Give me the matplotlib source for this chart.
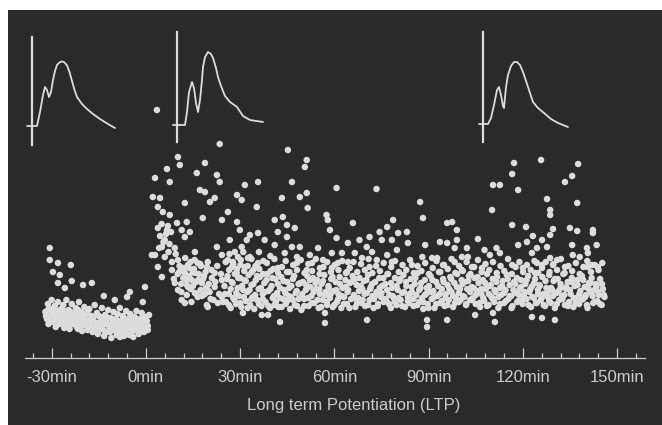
import numpy as np
import matplotlib
matplotlib.use("Agg")
import matplotlib.pyplot as plt

# --- response amplitude per sweep (time in min, amplitude in a.u.) ---
baseline_pts = [
    (-30.6, 11.0), (-30.6, 9.8), (-28.0, 9.5), (-23.9, 9.3), (-29.6, 8.6), (-27.4, 8.3),
    (-28.0, 7.5), (-23.6, 7.7), (-25.8, 7.0), (-20.0, 7.3), (-17.2, 7.5), (-0.3, 7.1),
    (-5.1, 6.6), (-6.0, 6.1), (-13.4, 6.2), (-9.9, 5.8), (-1.0, 5.6), (-21.6, 2.9), (-8.3, 2.1),
    (-32.0, 4.6), (-31.5, 3.9), (-31.2, 5.4), (-31.0, 3.4), (-30.5, 4.9), (-30.2, 4.2),
    (-30.0, 5.8), (-29.6, 3.6), (-29.3, 4.6), (-29.0, 5.2), (-28.7, 3.1), (-28.4, 4.0),
    (-28.0, 5.6), (-27.7, 4.4), (-27.4, 3.4), (-27.0, 4.9), (-26.6, 3.9), (-26.3, 5.3),
    (-26.0, 3.0), (-25.6, 4.3), (-25.3, 5.8), (-25.0, 3.6), (-24.6, 4.8), (-24.3, 2.9),
    (-24.0, 4.1), (-23.6, 5.4), (-23.3, 3.4), (-23.0, 4.5), (-22.6, 3.8), (-22.3, 5.0),
    (-22.0, 3.1), (-21.6, 4.2), (-21.3, 5.6), (-21.0, 3.6), (-20.6, 4.6), (-20.3, 2.7),
    (-20.0, 4.0), (-19.6, 5.1), (-19.3, 3.3), (-19.0, 4.4), (-18.6, 2.8), (-18.3, 3.8),
    (-18.0, 4.9), (-17.6, 3.2), (-17.3, 4.2), (-17.0, 2.6), (-16.6, 3.7), (-16.3, 5.3),
    (-16.0, 3.0), (-15.6, 4.5), (-15.3, 2.4), (-15.0, 3.5), (-14.6, 4.1), (-14.3, 2.9),
    (-14.0, 5.0), (-13.6, 3.3), (-13.3, 2.2), (-13.0, 4.3), (-12.6, 3.6), (-12.3, 2.6),
    (-12.0, 4.8), (-11.6, 3.1), (-11.3, 4.0), (-11.0, 2.0), (-10.6, 3.5), (-10.3, 4.6),
    (-10.0, 2.8), (-9.6, 3.9), (-9.3, 2.3), (-9.0, 4.4), (-8.6, 3.2), (-8.3, 5.0),
    (-8.0, 2.6), (-7.6, 3.7), (-7.3, 4.2), (-7.0, 2.2), (-6.6, 3.4), (-6.3, 4.7),
    (-6.0, 2.9), (-5.6, 3.9), (-5.3, 2.3), (-5.0, 4.4), (-4.6, 3.1), (-4.3, 3.6),
    (-4.0, 2.1), (-3.6, 4.1), (-3.3, 2.8), (-3.0, 4.7), (-2.6, 3.3), (-2.3, 2.4),
    (-2.0, 3.9), (-1.6, 2.9), (-1.3, 4.5), (-1.0, 3.5), (-0.6, 2.6), (-0.3, 4.1),
    (0.0, 3.1), (0.3, 3.7), (0.6, 2.8), (1.0, 4.3),
]

baseline_fill_pts = [
    (-31.8, 4.2), (-31.2, 4.8), (-30.6, 3.8), (-30.0, 4.5), (-29.4, 5.0), (-28.8, 4.1),
    (-28.2, 4.7), (-27.6, 3.6), (-27.0, 4.3), (-26.4, 4.8), (-25.8, 3.5), (-25.2, 4.1),
    (-24.6, 3.3), (-24.0, 4.6), (-23.4, 3.9), (-22.8, 4.3), (-22.2, 3.4), (-21.6, 4.8),
    (-21.0, 3.9), (-20.4, 3.3), (-19.8, 4.3), (-19.2, 3.7), (-18.6, 4.6), (-18.0, 3.1),
    (-17.4, 3.6), (-16.8, 4.1), (-16.2, 2.8), (-15.6, 3.4), (-15.0, 4.2), (-14.4, 3.2),
    (-13.8, 3.8), (-13.2, 2.7), (-12.6, 4.1), (-12.0, 3.3), (-11.4, 2.6), (-10.8, 3.9),
    (-10.2, 3.1), (-9.6, 3.4), (-9.0, 2.7), (-8.4, 3.7), (-7.8, 3.0), (-7.2, 4.0),
    (-6.6, 2.6), (-6.0, 3.5), (-5.4, 3.0), (-4.8, 3.8), (-4.2, 2.7), (-3.6, 3.3),
    (-3.0, 3.9), (-2.4, 2.9), (-1.8, 3.6), (-1.2, 3.1), (-0.6, 4.0), (0.0, 3.5), (0.6, 3.2),
]

ptp_pts = [
    (1.9, 10.3), (3.5, 24.8), (23.5, 21.4),
    (10.2, 20.1), (10.8, 19.3), (18.8, 19.5), (6.7, 18.9), (2.9, 18.0), (7.6, 17.6),
    (16.2, 18.5), (22.6, 18.3), (23.5, 17.6), (17.2, 16.8), (18.8, 16.6), (12.4, 15.5),
    (20.4, 15.6), (21.9, 16.0), (2.2, 16.1), (4.5, 16.0), (3.8, 15.1), (5.4, 14.6),
    (7.6, 14.3), (18.1, 14.0), (24.2, 13.8), (9.9, 13.5), (13.0, 13.6), (6.7, 12.8),
    (11.4, 12.8), (14.0, 12.6), (6.0, 11.8), (12.4, 12.1), (5.1, 11.1), (2.9, 10.3),
    (9.2, 11.0), (15.6, 10.6), (22.6, 11.1), (24.2, 10.3), (6.0, 10.1), (3.8, 9.1),
    (10.2, 9.8), (13.4, 9.3), (16.5, 9.5), (19.4, 9.1), (8.3, 8.8), (12.4, 8.5),
    (15.6, 8.5), (21.9, 8.5), (5.1, 8.1), (9.2, 7.5), (14.6, 7.8), (17.8, 7.5),
    (24.2, 7.8), (10.2, 6.8), (13.4, 7.1), (19.7, 6.8), (21.9, 7.1), (15.6, 6.5),
    (16.5, 6.1), (24.2, 6.1), (11.4, 5.8), (12.4, 5.5), (19.4, 5.3), (22.9, 5.5), (19.7, 5.1),
    (3.8, 13.0), (4.5, 12.2), (5.0, 13.4), (5.6, 11.6), (6.4, 12.4), (7.0, 13.2),
    (7.5, 11.4), (8.0, 12.6), (4.2, 11.0), (7.2, 10.6),
    (12.0, 9.0), (12.8, 7.8), (13.8, 8.2), (14.2, 9.6), (15.0, 7.2), (15.3, 8.9),
    (16.0, 7.6), (16.8, 8.4), (17.4, 6.8), (17.5, 9.2), (18.2, 7.9), (18.8, 6.4),
    (19.0, 8.6), (20.0, 7.4), (20.6, 5.9), (21.0, 8.0), (13.0, 6.3), (14.5, 5.6),
    (11.2, 7.4), (10.6, 8.6),
]

mid_pts = [
    (45.2, 20.8), (35.7, 17.6), (31.5, 17.3), (29.0, 16.3), (30.5, 15.8), (35.3, 15.1),
    (46.5, 17.6), (43.3, 16.0), (49.0, 16.1), (26.1, 14.6), (29.0, 13.6), (41.0, 13.8),
    (43.6, 14.1), (44.9, 13.3), (47.4, 13.0), (29.9, 12.8), (33.1, 12.3), (35.7, 12.5),
    (42.0, 12.6), (26.7, 11.8), (32.1, 11.8), (37.8, 11.8), (41.0, 11.3), (44.9, 12.1),
    (46.5, 11.1), (49.0, 11.1), (28.3, 10.6), (30.5, 11.1), (44.2, 10.5), (48.1, 10.1),
    (26.1, 9.8), (29.3, 10.1), (33.1, 10.1), (35.7, 9.5), (27.4, 9.1), (31.5, 9.1),
    (42.0, 9.0), (44.9, 8.6), (48.1, 9.5),
    (30.9, 4.5), (36.9, 4.3), (38.9, 4.3), (42.7, 3.6),
    (25.0, 7.2), (25.5, 5.6), (26.0, 8.2), (26.4, 6.4), (27.0, 5.0), (27.3, 7.6),
    (27.8, 6.0), (28.3, 8.4), (28.7, 5.4), (29.2, 7.0), (29.6, 6.2), (30.0, 8.0),
    (30.4, 5.1), (31.0, 6.8), (31.3, 7.8), (31.8, 5.7), (32.3, 6.6), (32.7, 8.3),
    (33.2, 5.3), (33.6, 7.3), (34.0, 6.1), (34.5, 4.9), (35.0, 7.8), (35.4, 5.8),
    (35.9, 6.9), (36.3, 8.1), (36.8, 5.2), (37.2, 6.4), (37.7, 7.5), (38.1, 5.6),
    (38.6, 8.4), (39.0, 6.7), (39.5, 5.0), (40.0, 7.2), (40.4, 6.0), (40.9, 5.3),
    (41.3, 7.9), (41.8, 6.5), (42.2, 5.1), (42.7, 7.0), (43.1, 8.1), (43.6, 5.9),
    (44.0, 6.8), (44.5, 5.4), (45.0, 7.6), (45.4, 6.2), (45.9, 4.9), (46.3, 7.2),
    (46.8, 5.8), (47.2, 8.2), (47.7, 6.5), (48.1, 5.2), (48.6, 7.4), (49.0, 6.0), (49.5, 4.8),
    (25.4, 9.6), (26.6, 10.4), (27.8, 9.4), (29.0, 8.9), (30.2, 9.8), (31.0, 10.6),
    (32.4, 9.2), (33.6, 9.9), (34.2, 8.8), (36.0, 10.6), (37.4, 9.7), (39.6, 10.2), (40.6, 8.9),
    (51.2, 19.8), (50.6, 19.1), (60.7, 17.0), (73.4, 16.9), (51.2, 16.5), (51.5, 15.0),
    (57.5, 14.3), (57.9, 13.8), (65.9, 13.5), (58.6, 12.8), (74.4, 12.6), (60.7, 12.0),
    (68.0, 11.8), (71.2, 12.1), (54.8, 11.0), (64.3, 11.5), (70.3, 11.1), (75.1, 11.8),
    (59.2, 10.5), (62.4, 10.5), (66.5, 10.5), (72.0, 10.6), (52.2, 10.3), (52.9, 9.5),
    (56.4, 9.8), (61.1, 9.5), (64.3, 9.6), (68.8, 10.0), (73.5, 9.8), (51.2, 8.8),
    (55.4, 9.0), (59.2, 9.0), (64.0, 8.6), (71.2, 9.1),
    (57.0, 4.5), (57.0, 3.5), (70.4, 3.8),
    (50.0, 7.6), (50.4, 5.9), (50.9, 6.8), (51.4, 8.2), (51.8, 5.2), (52.3, 7.1),
    (52.7, 6.2), (53.2, 8.0), (53.6, 5.5), (54.1, 6.9), (54.5, 7.8), (55.0, 5.0),
    (55.4, 6.4), (55.9, 7.4), (56.3, 5.8), (56.8, 8.3), (57.2, 6.6), (57.7, 5.3),
    (58.1, 7.2), (58.6, 6.0), (59.0, 7.9), (59.5, 5.1), (59.9, 6.7), (60.4, 7.6),
    (60.8, 5.6), (61.3, 6.4), (61.7, 8.1), (62.2, 5.0), (62.6, 7.0), (63.1, 6.1),
    (63.5, 7.8), (64.0, 5.4), (64.4, 6.8), (64.9, 7.5), (65.3, 5.9), (65.8, 8.2),
    (66.2, 6.3), (66.7, 5.1), (67.1, 7.3), (67.6, 6.0), (68.0, 8.0), (68.5, 5.5),
    (68.9, 6.9), (69.4, 7.7), (69.8, 5.2), (70.3, 6.5), (70.7, 8.3), (71.2, 5.8),
    (71.6, 7.1), (72.1, 6.2), (72.5, 5.0), (73.0, 7.6), (73.4, 6.6), (73.9, 5.4),
    (74.3, 8.0), (74.8, 6.1), (75.2, 7.2), (75.7, 5.6),
]

late_pts = [
    (87.3, 15.6), (88.2, 14.0), (78.7, 13.8), (95.9, 13.5), (97.5, 13.6), (76.8, 13.1),
    (99.0, 12.8), (80.3, 12.5), (83.1, 12.6), (78.3, 11.8), (88.9, 11.3), (93.6, 11.6),
    (95.9, 11.5), (99.0, 11.8), (79.9, 10.8), (83.4, 11.5), (98.3, 11.0), (100.6, 10.1),
    (88.0, 10.1), (91.1, 10.0), (92.7, 10.0), (76.8, 10.3), (78.3, 9.6), (84.7, 9.3),
    (94.6, 9.3), (98.3, 9.6), (100.6, 8.8),
    (89.5, 3.8), (89.5, 3.1), (95.9, 3.8),
    (76.2, 7.4), (76.6, 5.7), (77.1, 8.4), (77.5, 6.3), (78.0, 5.0), (78.4, 7.0),
    (78.9, 6.0), (79.3, 8.0), (79.8, 5.3), (80.2, 6.8), (80.7, 7.7), (81.1, 5.8),
    (81.6, 6.5), (82.0, 8.3), (82.5, 5.1), (82.9, 7.2), (83.4, 6.1), (83.8, 5.5),
    (84.3, 7.9), (84.7, 6.6), (85.2, 5.2), (85.6, 7.4), (86.1, 6.3), (86.5, 8.5),
    (87.0, 5.6), (87.4, 7.0), (87.9, 6.0), (88.3, 4.9), (88.8, 7.8), (89.2, 6.4),
    (89.7, 5.4), (90.1, 7.2), (90.6, 8.2), (91.0, 5.9), (91.5, 6.7), (91.9, 5.0),
    (92.4, 7.6), (92.8, 6.2), (93.3, 8.6), (93.7, 5.5), (94.2, 6.9), (94.6, 7.9),
    (95.1, 5.2), (95.5, 6.4), (96.0, 7.3), (96.4, 5.8), (96.9, 8.1), (97.3, 6.6),
    (97.8, 5.1), (98.2, 7.5), (98.7, 6.0), (99.1, 8.4), (99.6, 5.6), (100.0, 6.9), (100.5, 7.8),
    (117.2, 19.5), (116.6, 18.4), (110.5, 17.3), (112.7, 17.3), (118.5, 16.8), (110.2, 14.8),
    (116.6, 13.3), (121.0, 13.1), (105.7, 11.9), (123.2, 12.2), (121.3, 11.6), (118.5, 11.3),
    (102.2, 11.0), (107.8, 10.8), (111.6, 11.0), (112.7, 10.5), (109.5, 10.3), (124.5, 11.0),
    (122.9, 10.5), (102.5, 10.1), (116.6, 9.3), (124.5, 9.5), (103.8, 9.1), (107.0, 9.0),
    (120.0, 9.0), (123.9, 8.5), (125.8, 19.8),
    (104.8, 4.3), (110.5, 4.5), (111.1, 3.6), (122.9, 4.1),
    (101.0, 6.2), (101.4, 7.6), (101.9, 5.3), (102.3, 6.9), (102.8, 8.2), (103.2, 5.8),
    (103.7, 7.1), (104.1, 6.0), (104.6, 8.0), (105.0, 5.4), (105.5, 6.7), (105.9, 7.5),
    (106.4, 5.1), (106.8, 6.4), (107.3, 7.8), (107.7, 5.7), (108.2, 6.9), (108.6, 8.4),
    (109.1, 5.3), (109.5, 7.2), (110.0, 6.1), (110.4, 7.9), (110.9, 5.6), (111.3, 6.6),
    (111.8, 8.1), (112.2, 5.0), (112.7, 7.0), (113.1, 6.3), (113.6, 7.7), (114.0, 5.5),
    (114.5, 6.8), (114.9, 8.3), (115.4, 5.9), (115.8, 7.3), (116.3, 6.2), (116.7, 5.2),
    (117.2, 7.6), (117.6, 6.5), (118.1, 8.0), (118.5, 5.7), (119.0, 6.9), (119.4, 7.8),
    (119.9, 5.4), (120.3, 6.3), (120.8, 7.4), (121.2, 5.9), (121.7, 8.2), (122.1, 6.6),
    (122.6, 5.1), (123.0, 7.2), (123.5, 6.0), (123.9, 7.9), (124.4, 5.5), (124.8, 6.8),
    (137.6, 19.4), (135.7, 18.2), (133.4, 17.6), (127.7, 15.9), (137.3, 15.5), (128.7, 14.8),
    (128.7, 14.3), (129.6, 12.9), (135.0, 13.0), (137.3, 12.7), (142.3, 12.8), (142.3, 12.5),
    (128.7, 12.3), (126.1, 11.8), (127.7, 11.1), (135.7, 11.3), (143.5, 11.3), (140.4, 11.0),
    (140.7, 10.5), (135.9, 10.3), (138.1, 10.1), (128.7, 10.0), (130.9, 9.8), (126.1, 9.3),
    (129.6, 9.3), (133.4, 9.1), (140.7, 9.1), (142.0, 9.3), (143.9, 9.1),
    (126.1, 4.0), (130.2, 3.8),
    (125.3, 7.3), (125.7, 5.8), (126.2, 8.1), (126.6, 6.4), (127.1, 5.2), (127.5, 7.0),
    (128.0, 6.1), (128.4, 8.3), (128.9, 5.5), (129.3, 6.8), (129.8, 7.7), (130.2, 5.0),
    (130.7, 6.5), (131.1, 7.9), (131.6, 5.8), (132.0, 7.0), (132.5, 6.2), (132.9, 8.4),
    (133.4, 5.3), (133.8, 6.9), (134.3, 7.6), (134.7, 5.6), (135.2, 6.4), (135.6, 8.0),
    (136.1, 5.1), (136.5, 7.2), (137.0, 6.0), (137.4, 7.8), (137.9, 5.4), (138.3, 6.7),
    (138.8, 8.2), (139.2, 5.9), (139.7, 7.1), (140.1, 6.3), (140.6, 5.0), (141.0, 7.5),
    (141.5, 6.6), (141.9, 8.0), (142.4, 5.5), (142.8, 6.8), (143.3, 7.4), (143.7, 5.7),
    (144.2, 6.3), (144.6, 7.9), (145.1, 5.3), (145.5, 6.9), (146.0, 6.1),
]

# the packed core of the potentiated band
band_pts = [
    (8.3, 9.6), (8.9, 7.9), (9.5, 10.4), (10.1, 8.4), (10.7, 9.2), (11.3, 6.6), (11.9, 8.0),
    (12.5, 10.0), (13.1, 7.3), (13.7, 9.0), (14.3, 6.9), (14.9, 8.6), (15.5, 9.8), (16.1, 6.4),
    (16.7, 7.8), (17.3, 9.4), (17.9, 6.2), (18.5, 8.2), (19.1, 7.0), (19.7, 9.6), (20.3, 6.6),
    (20.9, 8.8), (21.5, 5.8), (22.1, 7.6), (22.7, 9.2), (23.3, 6.4), (23.9, 8.4), (24.5, 5.6),
    (25.2, 6.4), (25.8, 7.9), (26.4, 5.3), (27.0, 6.9), (27.6, 7.5), (28.2, 5.8), (28.8, 6.5),
    (29.4, 8.0), (30.0, 5.5), (30.6, 7.2), (31.2, 6.1), (31.8, 7.7), (32.4, 5.0), (33.0, 6.8),
    (33.6, 5.9), (34.2, 7.4), (34.8, 6.3), (35.4, 8.2), (36.0, 5.4), (36.6, 7.0), (37.2, 5.9),
    (37.8, 6.6), (38.4, 7.8), (39.0, 5.2), (39.6, 6.9), (40.2, 8.0), (40.8, 6.2), (41.4, 5.6),
    (42.0, 7.4), (42.6, 6.0), (43.2, 5.1), (43.8, 7.7), (44.4, 6.5), (45.0, 5.7), (45.6, 7.0),
    (46.2, 6.1), (46.8, 7.9), (47.4, 5.3), (48.0, 6.7), (48.6, 5.9), (49.2, 7.5), (49.8, 6.4),
    (50.4, 5.2), (51.0, 7.3), (51.6, 6.0), (52.2, 7.8), (52.8, 5.5), (53.4, 6.6), (54.0, 7.5),
    (54.6, 5.8), (55.2, 6.9), (55.8, 5.1), (56.4, 7.7), (57.0, 6.3), (57.6, 5.6), (58.2, 7.0),
    (58.8, 6.4), (59.4, 8.1), (60.0, 5.3), (60.6, 6.8), (61.2, 5.9), (61.8, 7.4), (62.4, 6.2),
    (63.0, 5.4), (63.6, 7.1), (64.2, 6.6), (64.8, 5.0), (65.4, 7.6), (66.0, 6.0), (66.6, 7.9),
    (67.2, 5.5), (67.8, 6.7), (68.4, 7.2), (69.0, 5.8), (69.6, 6.4), (70.2, 7.8), (70.8, 5.3),
    (71.4, 6.9), (72.0, 7.4), (72.6, 5.9), (73.2, 6.3), (73.8, 5.2), (74.4, 7.0), (75.0, 6.5),
    (75.6, 8.0), (76.2, 5.9), (76.8, 6.8), (77.4, 5.4), (78.0, 7.5), (78.6, 6.2), (79.2, 5.6),
    (79.8, 7.2), (80.4, 6.0), (81.0, 7.9), (81.6, 5.2), (82.2, 6.6), (82.8, 7.6), (83.4, 5.7),
    (84.0, 6.4), (84.6, 7.1), (85.2, 5.9), (85.8, 8.0), (86.4, 5.3), (87.0, 6.8), (87.6, 7.5),
    (88.2, 5.6), (88.8, 6.3), (89.4, 7.0), (90.0, 5.0), (90.6, 6.6), (91.2, 7.8), (91.8, 6.1),
    (92.4, 5.4), (93.0, 7.2), (93.6, 6.4), (94.2, 5.7), (94.8, 7.6), (95.4, 6.0), (96.0, 5.3),
    (96.6, 6.9), (97.2, 7.9), (97.8, 6.2), (98.4, 5.5), (99.0, 7.1), (99.6, 6.5), (100.2, 5.8),
    (100.8, 7.4), (101.4, 6.1), (102.0, 5.4), (102.6, 7.7), (103.2, 6.6), (103.8, 5.8),
    (104.4, 7.0), (105.0, 6.3), (105.6, 8.1), (106.2, 5.5), (106.8, 6.9), (107.4, 6.0),
    (108.0, 7.5), (108.6, 5.2), (109.2, 6.4), (109.8, 7.3), (110.4, 5.9), (111.0, 6.8),
    (111.6, 7.6), (112.2, 6.1), (112.8, 5.4), (113.4, 7.2), (114.0, 6.5), (114.6, 5.7),
    (115.2, 7.9), (115.8, 6.2), (116.4, 5.0), (117.0, 6.8), (117.6, 7.4), (118.2, 5.6),
    (118.8, 6.3), (119.4, 7.1), (120.0, 5.8), (120.6, 6.6), (121.2, 7.8), (121.8, 5.3),
    (122.4, 6.9), (123.0, 6.1), (123.6, 7.5), (124.2, 5.5), (124.8, 6.4), (125.4, 7.2),
    (126.0, 6.0), (126.6, 5.3), (127.2, 7.7), (127.8, 6.5), (128.4, 5.7), (129.0, 7.0),
    (129.6, 6.2), (130.2, 7.9), (130.8, 5.4), (131.4, 6.7), (132.0, 7.4), (132.6, 5.9),
    (133.2, 6.3), (133.8, 7.1), (134.4, 5.2), (135.0, 6.8), (135.6, 7.6), (136.2, 6.0),
    (136.8, 5.5), (137.4, 7.3), (138.0, 6.4), (138.6, 5.8), (139.2, 7.8), (139.8, 6.1),
    (140.4, 5.3), (141.0, 6.9), (141.6, 7.5), (142.2, 6.2), (142.8, 5.6), (143.4, 7.1),
    (144.0, 6.6), (144.6, 5.4), (145.2, 7.4), (145.8, 6.3),
]

# upper fringe of the band
upper_band_pts = [
    (26.5, 8.8), (27.7, 9.6), (28.9, 8.5), (30.1, 9.3), (31.3, 8.7), (32.5, 10.0), (33.7, 8.6),
    (34.9, 9.2), (36.1, 8.9), (37.3, 8.4), (38.5, 9.5), (39.7, 8.7), (40.9, 9.9), (42.1, 8.5),
    (43.3, 9.1), (44.5, 9.7), (45.7, 8.6), (46.9, 9.3), (48.1, 8.8), (49.3, 9.8), (50.5, 8.5),
    (51.7, 9.4), (52.9, 8.7), (54.1, 9.9), (55.3, 8.4), (56.5, 9.1), (57.7, 9.6), (58.9, 8.6),
    (60.1, 9.3), (61.3, 8.8), (62.5, 9.7), (63.7, 8.5), (64.9, 9.0), (66.1, 9.6), (67.3, 8.6),
    (68.5, 9.4), (69.7, 8.8), (70.9, 9.9), (72.1, 8.5), (73.3, 9.2), (74.5, 8.7), (75.7, 9.5),
    (76.9, 8.4), (78.1, 9.1), (79.3, 9.7), (80.5, 8.6), (81.7, 9.3), (82.9, 8.8), (84.1, 9.8),
    (85.3, 8.5), (86.5, 9.2), (87.7, 8.7), (88.9, 9.5), (90.1, 8.4), (91.3, 9.0), (92.5, 9.7),
    (93.7, 8.6), (94.9, 9.3), (96.1, 8.9), (97.3, 9.9), (98.5, 8.5), (99.7, 9.2), (100.9, 8.7),
    (102.1, 9.6), (103.3, 8.4), (104.5, 9.1), (105.7, 9.8), (106.9, 8.6), (108.1, 9.4),
    (109.3, 8.8), (110.5, 9.6), (111.7, 8.5), (112.9, 9.2), (114.1, 8.7), (115.3, 9.9),
    (116.5, 8.4), (117.7, 9.1), (118.9, 9.6), (120.1, 8.6), (121.3, 9.3), (122.5, 8.8),
    (123.7, 9.7), (124.9, 8.5), (126.1, 9.0), (127.3, 9.6), (128.5, 8.6), (129.7, 9.4),
    (130.9, 8.8), (132.1, 9.9), (133.3, 8.5), (134.5, 9.2), (135.7, 8.7), (136.9, 9.5),
    (138.1, 8.4), (139.3, 9.1), (140.5, 9.7), (141.7, 8.6), (142.9, 9.3), (144.1, 8.8),
    (145.3, 9.5),
]

# example EPSP traces (ms, mV) : before, shortly after and late after tetanus
trace1_ms = [-1.0, 0.0, 1.0, 1.6, 2.2, 2.6, 3.0, 3.4, 3.8, 4.2, 4.6, 5.0, 5.5, 6.0, 6.5,
             7.0, 7.5, 8.0, 8.5, 9.0, 10.0, 11.0, 12.2, 13.6, 15.2, 16.6]
trace1_mv = [0.0, 0.0, 0.0, 0.7, 1.55, 1.95, 1.8, 1.45, 1.7, 2.3, 2.75, 3.05, 3.18, 3.23, 3.18,
             3.03, 2.7, 2.25, 1.8, 1.45, 1.1, 0.85, 0.6, 0.35, 0.1, -0.1]
trace2_ms = [-0.8, 1.6, 2.0, 2.4, 3.0, 3.4, 3.8, 4.2, 4.6, 5.0, 5.2, 5.6, 6.2, 6.8, 7.2,
             7.8, 8.2, 8.8, 9.6, 10.6, 12.0, 13.2, 14.6, 17.2]
trace2_mv = [0.0, 0.0, 0.65, 1.65, 2.15, 1.85, 1.1, 0.65, 1.25, 2.25, 2.9, 3.4, 3.65, 3.55, 3.35,
             2.85, 2.4, 1.95, 1.45, 1.15, 0.9, 0.45, 0.25, 0.15]
trace3_ms = [-0.8, 1.0, 1.6, 2.2, 2.8, 3.2, 3.6, 4.0, 4.2, 4.6, 5.0, 5.6, 6.2, 6.8, 7.4,
             8.0, 9.0, 10.0, 11.0, 12.2, 13.6, 15.0, 17.0]
trace3_mv = [0.0, 0.0, 0.3, 0.95, 1.7, 1.85, 1.45, 0.9, 0.8, 1.85, 2.45, 2.9, 3.1, 3.1, 2.95,
             2.6, 1.85, 1.1, 0.8, 0.55, 0.25, 0.05, -0.15]
artifact = [(-0.95, 4.45), (-0.85, 4.65), (-0.9, 4.6)]

major_ticks = [-30, 0, 30, 60, 90, 120, 150]
tick_labels = ["-30min", "0min", "30min", "60min", "90min", "120min", "150min"]
minor_ticks = list(range(-36, 160, 6))

bg = "#2a2a2a"
fg = "#dcdcdc"
txt = "#cccccc"

plt.rcParams["font.family"] = ["Liberation Sans", "DejaVu Sans"]

fig = plt.figure(figsize=(6.62, 4.25), dpi=100, facecolor="white")
ax = fig.add_axes([8 / 662, 0, 654 / 662, 415 / 425], facecolor=bg)

for seg in [baseline_pts, baseline_fill_pts, ptp_pts, mid_pts, late_pts, band_pts, upper_band_pts]:
    arr = np.array(seg)
    ax.scatter(arr[:, 0], arr[:, 1], s=22, color=fg, edgecolors="none")

ax.set_xlim(-43.9, 164.3)
ax.set_ylim(-6.7, 34.8)

for s in ["top", "right", "left"]:
    ax.spines[s].set_visible(False)
ax.spines["bottom"].set_position(("data", 0))
ax.spines["bottom"].set_bounds(-38.5, 159)
ax.spines["bottom"].set_color(txt)
ax.spines["bottom"].set_linewidth(0.9)
ax.set_yticks([])
ax.set_xticks(major_ticks)
ax.set_xticklabels(tick_labels)
ax.set_xticks(minor_ticks, minor=True)
ax.tick_params(axis="x", which="major", direction="in", length=7, width=0.9,
               color=txt, labelcolor=txt, labelsize=12, pad=9)
ax.tick_params(axis="x", which="minor", direction="in", length=3.5, width=0.9, color=txt)
ax.set_xlabel("Long term Potentiation (LTP)", color=txt, fontsize=12)
ax.xaxis.set_label_coords(0.529, 0.066)

# inset traces
for (ms, mv, art), sx, by in zip(
        [(trace1_ms, trace1_mv, artifact[0]), (trace2_ms, trace2_mv, artifact[1]),
         (trace3_ms, trace3_mv, artifact[2])],
        [32, 177, 483], [126, 125, 124]):
    ins = fig.add_axes([(sx - 12) / 662, 1 - (by + 24) / 425, 105 / 662, 120 / 425])
    ins.patch.set_alpha(0)
    ins.plot(ms, mv, color=fg, lw=1.3, solid_joinstyle="round", solid_capstyle="round")
    ins.plot([0, 0], list(art), color=fg, lw=1.6)
    ins.set_xlim(-2.4, 18.6)
    ins.set_ylim(-1.2, 4.8)
    ins.axis("off")

fig.savefig("out.png", dpi=100, facecolor="white")
